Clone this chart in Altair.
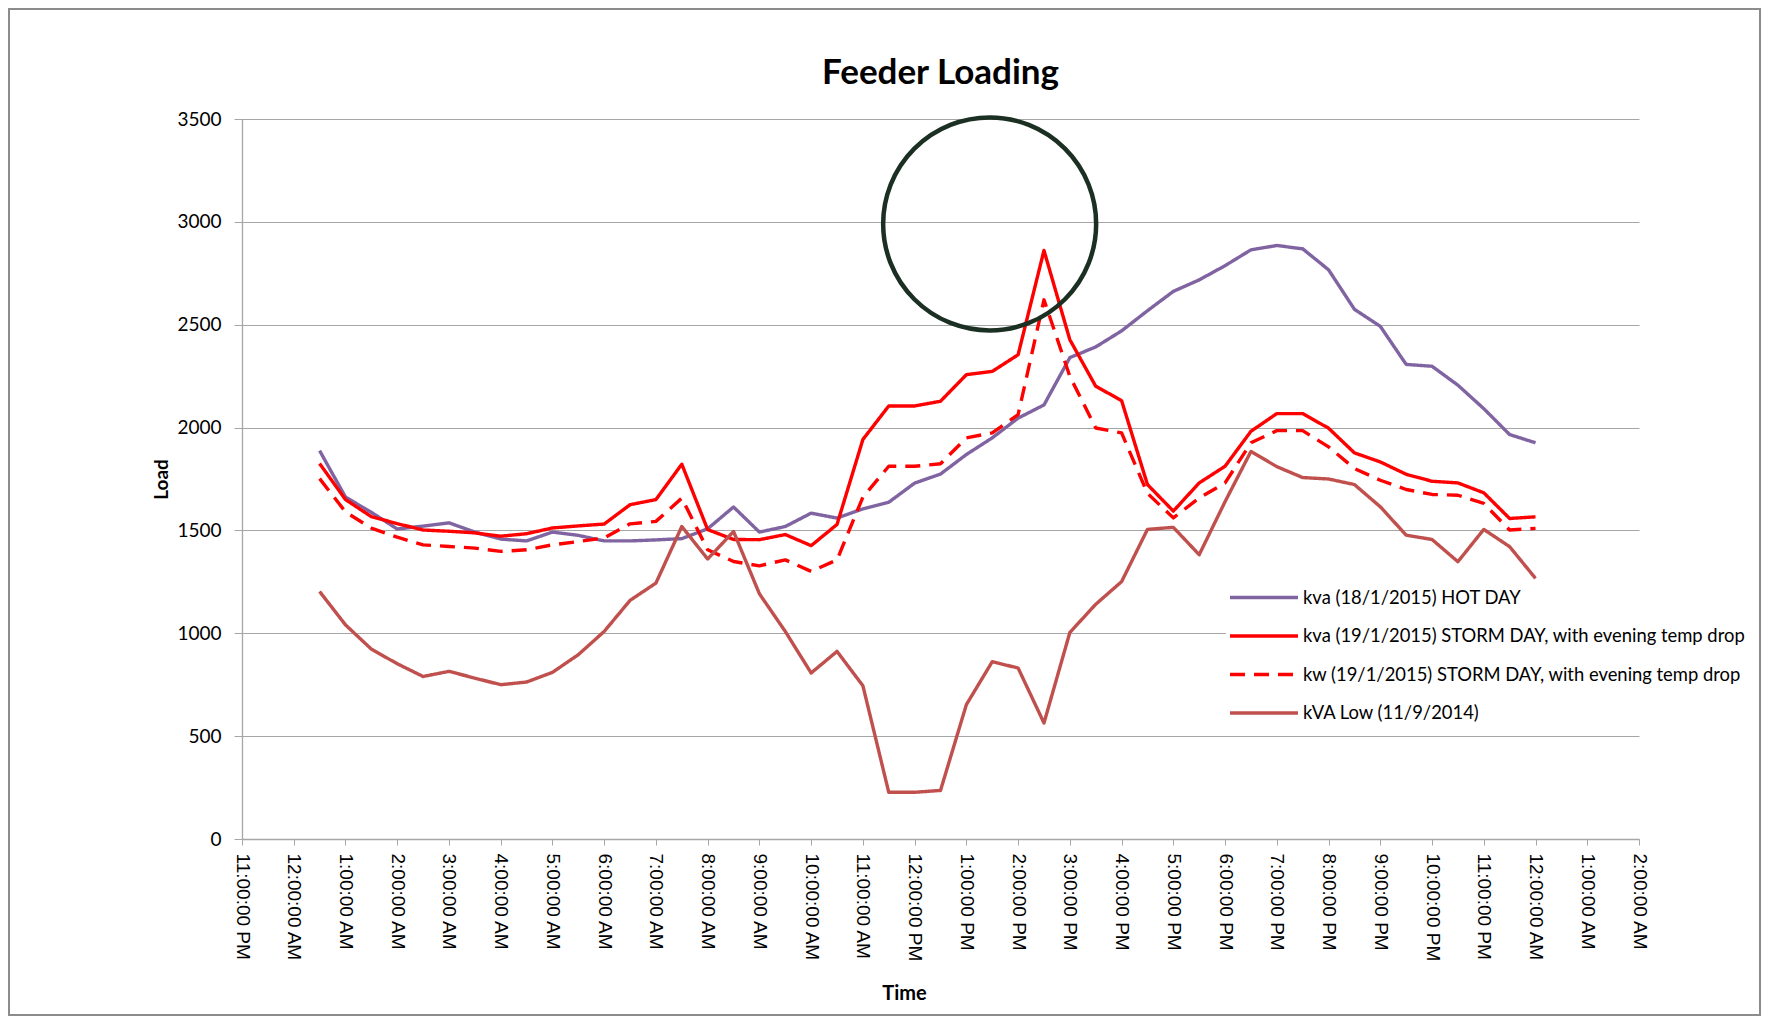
import altair as alt
import pandas as pd

times = [
    "2015-01-18T00:30:00Z", "2015-01-18T01:00:00Z", "2015-01-18T01:30:00Z", "2015-01-18T02:00:00Z",
    "2015-01-18T02:30:00Z", "2015-01-18T03:00:00Z", "2015-01-18T03:30:00Z", "2015-01-18T04:00:00Z",
    "2015-01-18T04:30:00Z", "2015-01-18T05:00:00Z", "2015-01-18T05:30:00Z", "2015-01-18T06:00:00Z",
    "2015-01-18T06:30:00Z", "2015-01-18T07:00:00Z", "2015-01-18T07:30:00Z", "2015-01-18T08:00:00Z",
    "2015-01-18T08:30:00Z", "2015-01-18T09:00:00Z", "2015-01-18T09:30:00Z", "2015-01-18T10:00:00Z",
    "2015-01-18T10:30:00Z", "2015-01-18T11:00:00Z", "2015-01-18T11:30:00Z", "2015-01-18T12:00:00Z",
    "2015-01-18T12:30:00Z", "2015-01-18T13:00:00Z", "2015-01-18T13:30:00Z", "2015-01-18T14:00:00Z",
    "2015-01-18T14:30:00Z", "2015-01-18T15:00:00Z", "2015-01-18T15:30:00Z", "2015-01-18T16:00:00Z",
    "2015-01-18T16:30:00Z", "2015-01-18T17:00:00Z", "2015-01-18T17:30:00Z", "2015-01-18T18:00:00Z",
    "2015-01-18T18:30:00Z", "2015-01-18T19:00:00Z", "2015-01-18T19:30:00Z", "2015-01-18T20:00:00Z",
    "2015-01-18T20:30:00Z", "2015-01-18T21:00:00Z", "2015-01-18T21:30:00Z", "2015-01-18T22:00:00Z",
    "2015-01-18T22:30:00Z", "2015-01-18T23:00:00Z", "2015-01-18T23:30:00Z", "2015-01-19T00:00:00Z",
]

hot_day_kva = [
    1888, 1662, 1588, 1507, 1521, 1537, 1492, 1458, 1449, 1492, 1476, 1449,
    1449, 1454, 1460, 1508, 1614, 1492, 1519, 1584, 1560, 1605, 1637, 1730,
    1774, 1869, 1950, 2046, 2110, 2340, 2392, 2470, 2568, 2662, 2718, 2787,
    2864, 2885, 2869, 2767, 2575, 2492, 2307, 2298, 2206, 2092, 1966, 1926,
]
storm_day_kva = [
    1825, 1650, 1567, 1533, 1502, 1496, 1488, 1472, 1484, 1512, 1522, 1531,
    1625, 1650, 1822, 1504, 1456, 1455, 1480, 1426, 1529, 1942, 2105, 2105,
    2128, 2257, 2273, 2354, 2861, 2427, 2201, 2131, 1723, 1594, 1731, 1812,
    1982, 2068, 2068, 1997, 1877, 1833, 1773, 1739, 1731, 1683, 1558, 1566,
]
storm_day_kw = [
    1752, 1590, 1511, 1467, 1430, 1422, 1414, 1398, 1406, 1430, 1446, 1463,
    1532, 1544, 1657, 1406, 1349, 1328, 1357, 1301, 1357, 1662, 1812, 1812,
    1824, 1950, 1974, 2063, 2621, 2249, 1998, 1974, 1680, 1561, 1658, 1731,
    1926, 1985, 1985, 1906, 1801, 1744, 1699, 1675, 1671, 1631, 1502, 1510,
]
low_kva = [
    1203, 1041, 923, 852, 790, 815, 782, 750, 763, 810, 896, 1009,
    1160, 1244, 1519, 1361, 1495, 1192, 1009, 807, 912, 745, 227, 227,
    236, 653, 862, 831, 564, 1004, 1141, 1251, 1505, 1515, 1382, 1640,
    1884, 1810, 1757, 1750, 1723, 1615, 1477, 1456, 1348, 1505, 1421, 1267,
]

series_names = [
    "kva (18/1/2015) HOT DAY",
    "kva (19/1/2015) STORM DAY, with evening temp drop",
    "kw (19/1/2015) STORM DAY, with evening temp drop",
    "kVA Low (11/9/2014)",
]
series_values = [hot_day_kva, storm_day_kva, storm_day_kw, low_kva]
series_colors = ["#8064A2", "#FF0000", "#FF0000", "#C0504D"]
series_dashes = [[1, 0], [1, 0], [15, 9], [1, 0]]

# highlight circle annotation (time, load)
circle_time = ["2015-01-18T13:27:00Z"]
circle_load = [2990]

y_ticks = [0, 500, 1000, 1500, 2000, 2500, 3000, 3500]
x_tick_hours = [(17, 23)] + [(18, h) for h in range(24)] + [(19, 0), (19, 1), (19, 2)]

rows = []
for name, vals in zip(series_names, series_values):
    for t, v in zip(times, vals):
        rows.append({"time": t, "load": v, "series": name})
df = pd.DataFrame(rows)
circle_df = pd.DataFrame({"time": circle_time, "load": circle_load})

FONT = "Lato"
W, H = 1397, 720
x_values = [alt.DateTime(year=2015, month=1, date=d, hours=h, utc=True) for d, h in x_tick_hours]
x_scale = alt.Scale(
    type="utc",
    domain=[alt.DateTime(year=2015, month=1, date=17, hours=23, utc=True),
            alt.DateTime(year=2015, month=1, date=19, hours=2, utc=True)],
)
y_scale = alt.Scale(domain=[0, 3500], nice=False)

x_axis = alt.Axis(
    values=x_values,
    labelExpr="utcFormat(datum.value, '%-I:%M:%S %p')",
    labelAngle=90, labelAlign="left", labelBaseline="middle",
    labelFont="Liberation Sans", labelFontSize=19, labelPadding=8, tickSize=6, grid=False,
    title="Time", titleFontSize=20, titleFontWeight="bold",
    titleX=662, titleY=154, titleAnchor="start", titleAlign="center", titleBaseline="middle",
    labelOverlap=False, labelBound=False, labelFlush=False,
)
y_axis = alt.Axis(
    values=y_ticks, format="d", labelFontSize=19, labelPadding=13, tickSize=8, grid=True,
    title="Load", titleFontSize=19, titleFontWeight="bold",
    titleAngle=-90, titleX=-81, titleY=H / 2, titleAlign="center", titleBaseline="middle",
)

legend = alt.Legend(
    orient="none", legendX=984, legendY=466, title=None,
    symbolType="M-1,0H7", symbolSize=289, symbolStrokeWidth=3.4,
    labelFontSize=18.4, labelFont=FONT, labelOffset=54, labelLimit=0,
    rowPadding=18.5, fillColor="white", padding=2, labelColor="#000000",
)

lines = alt.Chart(df).mark_line(strokeWidth=3.4, strokeJoin="round").encode(
    x=alt.X("time:T", scale=x_scale, axis=x_axis),
    y=alt.Y("load:Q", scale=y_scale, axis=y_axis),
    color=alt.Color("series:N", scale=alt.Scale(domain=series_names, range=series_colors), legend=legend),
    strokeDash=alt.StrokeDash("series:N", scale=alt.Scale(domain=series_names, range=series_dashes), legend=legend),
    detail="series:N",
)

circle = alt.Chart(circle_df).mark_point(
    shape="circle", size=45369, filled=False, color="#1B3022", stroke="#1B3022",
    strokeWidth=4.5, opacity=1,
).encode(
    x=alt.X("time:T", scale=x_scale, axis=x_axis),
    y=alt.Y("load:Q", scale=y_scale, axis=y_axis),
)

# outer chart-area frame (decoration, pixel offsets from the plot origin)
frame = alt.Chart(pd.DataFrame({"f": [0]})).mark_rect(
    fill=None, stroke="#8C8C8C", strokeWidth=2,
).encode(
    x=alt.value(-233), x2=alt.value(W + 121),
    y=alt.value(-110), y2=alt.value(H + 176),
)

chart = alt.layer(lines, circle, frame).properties(
    width=W,
    height=H,
    title=alt.TitleParams(
        "Feeder Loading", fontSize=35, font=FONT, fontWeight="bold", anchor="middle",
        frame="group", baseline="alphabetic", offset=0, dy=111, color="#000000",
    ),
    autosize=alt.AutoSizeParams(type="none"),
    padding={"left": 234, "top": 111, "right": 122, "bottom": 177},
).configure(
    background="white",
    font=FONT,
).configure_axis(
    labelFont=FONT, titleFont=FONT, labelColor="#000000", titleColor="#000000",
    gridColor="#A6A6A6", gridWidth=1, domainColor="#A6A6A6", domainWidth=1.3,
    tickColor="#A6A6A6", tickWidth=1,
).configure_view(
    stroke=None,
)

chart.save("out.html", embed_options={"renderer": "svg", "actions": False})
